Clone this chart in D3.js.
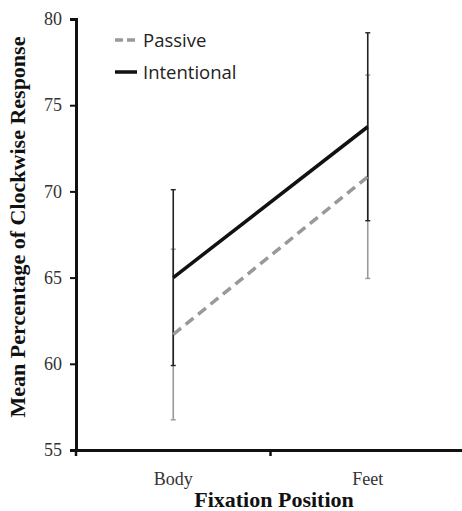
<!doctype html>
<html lang="en">
<head>
<meta charset="UTF-8">
<title>Fixation Position</title>
<script src="https://d3js.org/d3.v7.min.js"></script>
<style>
    body { margin: 0; background: #fff; }
    .tick-label { font-family: 'Liberation Serif', 'Times New Roman', serif; font-size: 18px; fill: #333; }
    .axis-title { font-family: 'Liberation Serif', 'Times New Roman', serif; font-size: 22px; font-weight: bold; fill: #111; }
    .legend { font-family: 'Open Sans', sans-serif; font-size: 18.5px; fill: #222; }
</style>
</head>
<body>
<script>
// data
const positions = ['Body', 'Feet'];
const passive = [61.7, 70.85];
const passiveErr = [4.95, 5.9];
const intentional = [65.0, 73.75];
const intentionalErr = [5.1, 5.45];
const yTicks = [55, 60, 65, 70, 75, 80];

const width = 462,
      height = 511;

const svg = d3.select('body').append('svg')
    .attr('width', width)
    .attr('height', height);

const x = d3.scaleBand()
    .domain(positions)
    .range([76, 465])
    .paddingInner(0);

const y = d3.scaleLinear()
    .domain([55, 80])
    .range([450, 19]);

const cx = d => x(d) + x.bandwidth() / 2;

// y axis
const yAxis = svg.append('g')
    .attr('transform', 'translate(76,0)')
    .call(d3.axisLeft(y).tickValues(yTicks).tickSize(6).tickPadding(8).tickFormat(d3.format('d')));
yAxis.select('.domain').attr('stroke', '#111').attr('stroke-width', 3);
yAxis.selectAll('.tick line').attr('stroke', '#111').attr('stroke-width', 2);
yAxis.selectAll('.tick text').attr('class', 'tick-label');

// x axis: ticks between categories, labels at centres
const xAxis = svg.append('g')
    .attr('transform', 'translate(0,450)')
    .call(d3.axisBottom(x).tickSize(0).tickPadding(22));
xAxis.select('.domain').attr('stroke', '#111').attr('stroke-width', 3);
xAxis.selectAll('.tick text').attr('class', 'tick-label');
xAxis.selectAll('.boundary')
    .data(x.domain().map(d => x(d)).concat([x.range()[1]]))
    .enter().append('line')
    .attr('class', 'boundary')
    .attr('x1', d => d).attr('x2', d => d)
    .attr('y1', 0).attr('y2', 6)
    .attr('stroke', '#111')
    .attr('stroke-width', 2.5);

// error bars (passive underneath, intentional on top)
function errorBars(vals, errs, colour) {
    const g = svg.append('g');
    positions.forEach((p, i) => {
        const lo = y(vals[i] - errs[i]), hi = y(vals[i] + errs[i]);
        g.append('line')
            .attr('x1', cx(p)).attr('x2', cx(p))
            .attr('y1', lo).attr('y2', hi)
            .attr('stroke', colour).attr('stroke-width', 1.6);
        [lo, hi].forEach(v => {
            g.append('line')
                .attr('x1', cx(p) - 2.5).attr('x2', cx(p) + 2.5)
                .attr('y1', v).attr('y2', v)
                .attr('stroke', colour).attr('stroke-width', 1.4);
        });
    });
}
errorBars(passive, passiveErr, '#9a9a9a');
errorBars(intentional, intentionalErr, '#222');

const line = d3.line()
    .x((d, i) => cx(positions[i]))
    .y(d => y(d));

svg.append('path')
    .datum(passive)
    .attr('d', line)
    .attr('fill', 'none')
    .attr('stroke', '#999')
    .attr('stroke-width', 3.5)
    .attr('stroke-dasharray', '10,6');

svg.append('path')
    .datum(intentional)
    .attr('d', line)
    .attr('fill', 'none')
    .attr('stroke', '#111')
    .attr('stroke-width', 3.5);

// legend
const legend = svg.append('g');
legend.append('line')
    .attr('x1', 115).attr('x2', 137).attr('y1', 40).attr('y2', 40)
    .attr('stroke', '#999').attr('stroke-width', 3.5).attr('stroke-dasharray', '8,4');
legend.append('text').attr('class', 'legend')
    .attr('x', 143).attr('y', 46.5).text('Passive');
legend.append('line')
    .attr('x1', 115).attr('x2', 137).attr('y1', 72).attr('y2', 72)
    .attr('stroke', '#111').attr('stroke-width', 3.5);
legend.append('text').attr('class', 'legend')
    .attr('x', 143).attr('y', 78.5).text('Intentional');

// axis titles
svg.append('text')
    .attr('class', 'axis-title')
    .attr('text-anchor', 'middle')
    .attr('transform', 'translate(25,227) rotate(-90)')
    .text('Mean Percentage of Clockwise Response');

svg.append('text')
    .attr('class', 'axis-title')
    .attr('text-anchor', 'middle')
    .attr('x', 274)
    .attr('y', 507)
    .text('Fixation Position');
</script>
</body>
</html>
